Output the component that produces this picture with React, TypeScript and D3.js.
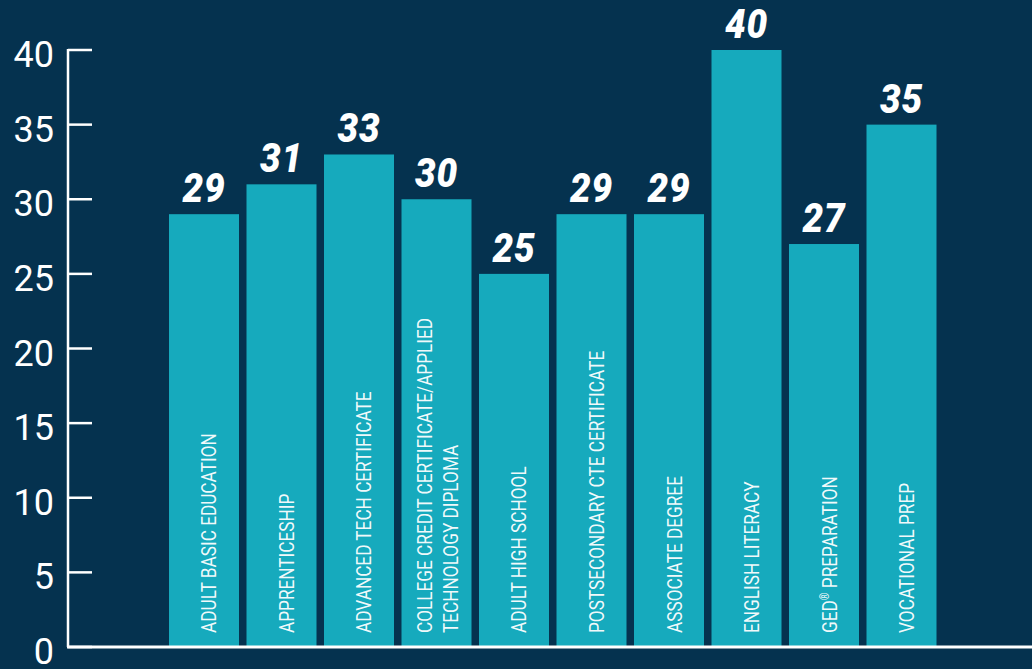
import React, { useEffect } from "react";
import * as d3 from "d3";

const categories: string[][] = [
  ["ADULT BASIC EDUCATION"],
  ["APPRENTICESHIP"],
  ["ADVANCED TECH CERTIFICATE"],
  ["COLLEGE CREDIT CERTIFICATE/APPLIED", "TECHNOLOGY DIPLOMA"],
  ["ADULT HIGH SCHOOL"],
  ["POSTSECONDARY CTE CERTIFICATE"],
  ["ASSOCIATE DEGREE"],
  ["ENGLISH LITERACY"],
  ["GED® PREPARATION"],
  ["VOCATIONAL PREP"],
];
const values: number[] = [29, 31, 33, 30, 25, 29, 29, 40, 27, 35];
const yTicks: number[] = [0, 5, 10, 15, 20, 25, 30, 35, 40];

const W = 1032;
const H = 669;
const BG = "#05324f";
const BAR = "#16aabd";

export default function App() {
  useEffect(() => {
    document.body.style.margin = "0";
    document.body.style.background = BG;
  }, []);

  const ids = categories.map((_, i) => String(i));
  const x = d3.scaleBand<string>().domain(ids).range([169, 936.5]).paddingInner(0.0968).paddingOuter(0);
  const y = d3.scaleLinear().domain([0, 40]).range([647, 50]);
  const axisX = 68;

  const renderLabel = (line: string) => {
    if (line.includes("®")) {
      const [a, b] = line.split("®");
      return (
        <>
          {a}
          <tspan fontSize={12} dy={-8}>®</tspan>
          <tspan dy={8}>{b}</tspan>
        </>
      );
    }
    return line;
  };

  return (
    <svg width={W} height={H} style={{ display: "block", background: BG }}>
      <rect x={0} y={0} width={W} height={H} fill={BG} />
      {values.map((v, i) => {
        const bx = x(String(i))!;
        return (
          <rect key={"b" + i} x={bx} y={y(v)} width={x.bandwidth()} height={y(0) - y(v)} fill={BAR} />
        );
      })}
      {values.map((v, i) => {
        const cx = x(String(i))! + x.bandwidth() / 2;
        return (
          <text
            key={"v" + i}
            transform={`translate(${cx},${y(v) - 12}) scale(0.92,1)`}
            textAnchor="middle"
            fill="#ffffff"
            fontFamily="Roboto, sans-serif"
            fontWeight={900}
            fontStyle="italic"
            fontSize={40}
            letterSpacing={1}
          >
            {v}
          </text>
        );
      })}
      {categories.map((lines, i) => {
        const cx = x(String(i))! + x.bandwidth() / 2;
        const offsets = lines.length === 1 ? [12.5] : [-4, 21.5];
        return lines.map((line, j) => (
          <text
            key={"c" + i + "-" + j}
            transform={`translate(${cx + offsets[j]},633) rotate(-90) scale(0.82,1)`}
            fill="#ffffff"
            fillOpacity={0.95}
            fontFamily="Roboto, sans-serif"
            fontSize={21}
          >
            {renderLabel(line)}
          </text>
        ));
      })}
      <line x1={axisX} x2={axisX} y1={y(40) - 1} y2={y(0)} stroke="#ffffff" strokeWidth={2.5} />
      {yTicks.map((t) => (
        <g key={"t" + t}>
          <line x1={axisX} x2={92} y1={y(t)} y2={y(t)} stroke="#ffffff" strokeWidth={2.5} />
          <text
            x={54}
            y={y(t) + 17}
            textAnchor="end"
            fill="#ffffff"
            fontFamily="Roboto, sans-serif"
            fontSize={36}
          >
            {t}
          </text>
        </g>
      ))}
      <line x1={axisX - 1} x2={W} y1={y(0)} y2={y(0)} stroke="#ffffff" strokeWidth={2.8} />
    </svg>
  );
}
